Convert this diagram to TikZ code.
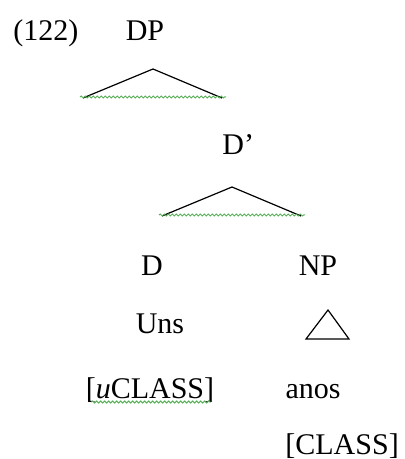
\documentclass[tikz,border=0pt]{standalone}
\usepackage{fontspec}
\setmainfont{Liberation Serif}
\usetikzlibrary{decorations.pathmorphing}
\definecolor{spellgreen}{RGB}{90,175,90}
\tikzset{
  lbl/.style={inner sep=0pt,anchor=base,font=\fontsize{15}{18}\selectfont},
  roof/.style={line width=0.6pt},
  spell/.style={draw=spellgreen,line width=0.5pt,decorate,decoration={snake,segment length=2pt,amplitude=0.5pt}},
}

\begin{document}
\begin{tikzpicture}[x=0.5pt,y=-0.5pt]
\useasboundingbox (0,0) rectangle (405,459);
% labels
\node[lbl,anchor=base west] (ex) at (13,41) {(122)};
\node[lbl] (dp) at (145,41) {DP};
\node[lbl,anchor=base west] (dbar) at (222,155) {D’};
\node[lbl] (d) at (152,275) {D};
\node[lbl] (np) at (318,275) {NP};
\node[lbl] (uns) at (160,333) {Uns};
\node[lbl] (ufeat) at (150,398) {[\textit{u}CLASS]};
\node[lbl] (anos) at (313,398) {anos};
\node[lbl,anchor=base west] (feat) at (285,454) {[CLASS]};
% roofs, with the green wavy marks under them
\foreach \n/\x/\y in {dpr/153/69, dbr/232/187}{
  \coordinate (\n-top) at (\x,\y);
  \coordinate (\n-l) at (\x-70,\y+29);
  \coordinate (\n-r) at (\x+69,\y+29);
  \draw[roof] (\n-l) -- (\n-top) -- (\n-r);
  \draw[spell] ([xshift=-1.5pt,yshift=0.5pt]\n-l) -- ([xshift=2pt,yshift=0.5pt]\n-r);
}
\draw[spell] ([xshift=3pt,yshift=-2pt]ufeat.base west) -- ([xshift=-2pt,yshift=-2pt]ufeat.base east);
% small triangle under NP
\coordinate (npt-top) at (328,310);
\coordinate (npt-l) at (306,339);
\coordinate (npt-r) at (349,339);
\draw[roof] (npt-l) -- (npt-top) -- (npt-r) -- cycle;
\end{tikzpicture}
\end{document}
